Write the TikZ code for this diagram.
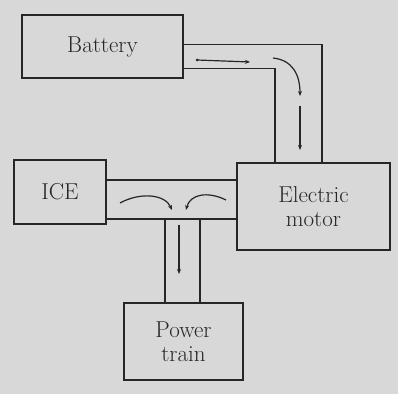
\documentclass[tikz,border=0pt]{standalone}
\usetikzlibrary{arrows.meta}
\definecolor{paper}{HTML}{D8D8D8}
\definecolor{ink}{HTML}{262626}
\begin{document}
\begin{tikzpicture}[x=1pt,y=1pt,
  blockbox/.style={draw=ink,line width=1.4pt,inner sep=0pt,font=\fontsize{23}{24}\selectfont,text=ink,align=center},
  pipe/.style={draw=ink,line width=1.3pt},
  flow/.style={draw=ink,line width=1.2pt,-{Stealth[length=5pt,width=4pt]}}]
\fill[paper] (0,0) rectangle (398,394);
\useasboundingbox (0,0) rectangle (398,394);
\node[blockbox,minimum width=161pt,minimum height=63pt] (bat) at (102.5,347.5) {Battery};
\node[blockbox,minimum width=153pt,minimum height=87pt] (mot) at (313.5,187.5) {Electric\\motor};
\node[blockbox,minimum width=92pt,minimum height=64pt] (ice) at (60,202) {ICE};
\node[blockbox,minimum width=119pt,minimum height=77pt] (pt) at (183.5,52.5) {Power\\train};
% battery to motor pipe
\draw[pipe] ([yshift=2pt]bat.east) -| ([xshift=8.5pt]mot.north);
\draw[pipe] ([yshift=-22pt]bat.east) -| ([xshift=-38.5pt]mot.north);
% ICE to motor pipe
\draw[pipe] ([yshift=12pt]ice.east) -- ([yshift=12pt]ice.east -| mot.west);
\draw[pipe] ([yshift=-27pt]ice.east) -- ([yshift=-27pt]ice.east -| mot.west);
% vertical pipe to power train
\coordinate (pl) at ([xshift=-18.5pt]pt.north);
\coordinate (pr) at ([xshift=16.5pt]pt.north);
\draw[pipe] (pl) -- (pl |- 0,175);
\draw[pipe] (pr) -- (pr |- 0,175);
% arrows
\coordinate (a1) at (197,334);
\coordinate (a2) at (250,332);
\fill[ink] (a1) circle (1.5pt);
\draw[flow] (a1) -- (a2);
\coordinate (c1) at (273,336);
\coordinate (c2) at (300,298);
\draw[flow] (c1) .. controls (292,334) and (300,320) .. (c2);
\coordinate (d1) at (300,288);
\coordinate (d2) at (300,244);
\draw[flow] (d1) -- (d2);
\coordinate (l1) at (120,191);
\coordinate (l2) at (172,184);
\draw[flow] (l1) .. controls (140,202) and (165,200) .. (l2);
\coordinate (r1) at (226,194);
\coordinate (r2) at (186,184);
\draw[flow] (r1) .. controls (208,203) and (190,200) .. (r2);
\coordinate (v1) at (179,169);
\coordinate (v2) at (179,120);
\draw[flow] (v1) -- (v2);
\end{tikzpicture}
\end{document}
